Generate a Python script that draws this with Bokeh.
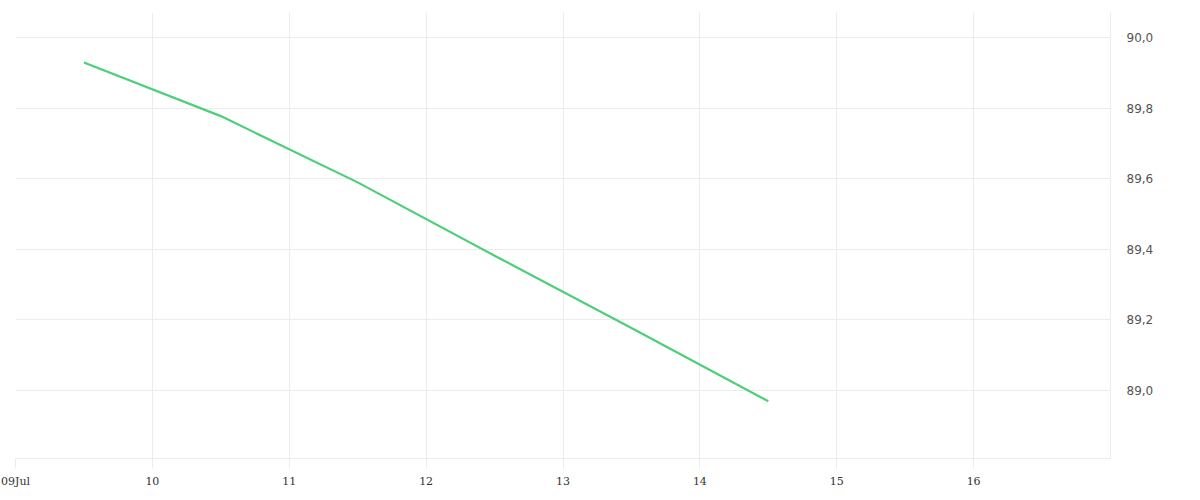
from datetime import datetime
from bokeh.plotting import figure
from bokeh.models import Range1d, FixedTicker, CustomJSTickFormatter
from bokeh.embed import file_html
from bokeh.resources import INLINE

# ---- data ----
dates = [datetime(2024, 7, d, 12) for d in (9, 10, 11, 12, 13, 14)]
values = [89.93, 89.778, 89.59, 89.382, 89.177, 88.969]

x_tick_days = [9, 10, 11, 12, 13, 14, 15, 16]
x_tick_labels = ["09Jul", "10", "11", "12", "13", "14", "15", "16"]
y_ticks = [89.0, 89.2, 89.4, 89.6, 89.8, 90.0]

EPOCH = datetime(1970, 1, 1)
def ms(dt):
    return (dt - EPOCH).total_seconds() * 1000.0

x_tick_ms = [ms(datetime(2024, 7, d)) for d in x_tick_days]
label_map = {str(int(t)): lab for t, lab in zip(x_tick_ms, x_tick_labels)}

p = figure(
    x_axis_type="datetime",
    y_axis_location="right",
    frame_width=1095, frame_height=446,
    min_border_left=15, min_border_top=12, min_border_right=10, min_border_bottom=10,
    x_range=Range1d(datetime(2024, 7, 9), datetime(2024, 7, 17)),
    y_range=Range1d(88.8065, 90.072),
    output_backend="svg", toolbar_location=None,
)
p.outline_line_color = None
p.background_fill_color = "white"
p.border_fill_color = "white"

p.line(dates, values, line_color="#4ccf78", line_width=2.2)

grid_color = "#ececec"

# x axis
xt = FixedTicker(ticks=x_tick_ms)
p.xaxis.ticker = xt
p.xgrid.ticker = xt
p.xaxis.formatter = CustomJSTickFormatter(args=dict(labels=label_map),
    code="const k = String(Math.round(tick)); return (k in labels) ? labels[k] : '';")
p.xaxis.axis_line_color = grid_color
p.xaxis.major_tick_line_color = grid_color
p.xaxis.major_tick_out = 10
p.xaxis.major_tick_in = 0
p.xaxis.minor_tick_line_color = None
p.xaxis.major_label_standoff = 6
p.xaxis.major_label_text_font = "DejaVu Serif"
p.xaxis.major_label_text_font_size = "11px"
p.xaxis.major_label_text_color = "#333333"

# y axis
yt = FixedTicker(ticks=y_ticks)
p.yaxis.ticker = yt
p.ygrid.ticker = yt
p.yaxis.formatter = CustomJSTickFormatter(code="return tick.toFixed(1).replace('.', ',');")
p.yaxis.axis_line_color = grid_color
p.yaxis.major_tick_line_color = None
p.yaxis.minor_tick_line_color = None
p.yaxis.major_tick_out = 0
p.yaxis.major_tick_in = 0
p.yaxis.major_label_standoff = 16
p.yaxis.major_label_text_font = "DejaVu Sans"
p.yaxis.major_label_text_font_size = "12px"
p.yaxis.major_label_text_color = "#555555"

p.xgrid.grid_line_color = grid_color
p.ygrid.grid_line_color = grid_color

open("out.html", "w").write(file_html(p, INLINE))
